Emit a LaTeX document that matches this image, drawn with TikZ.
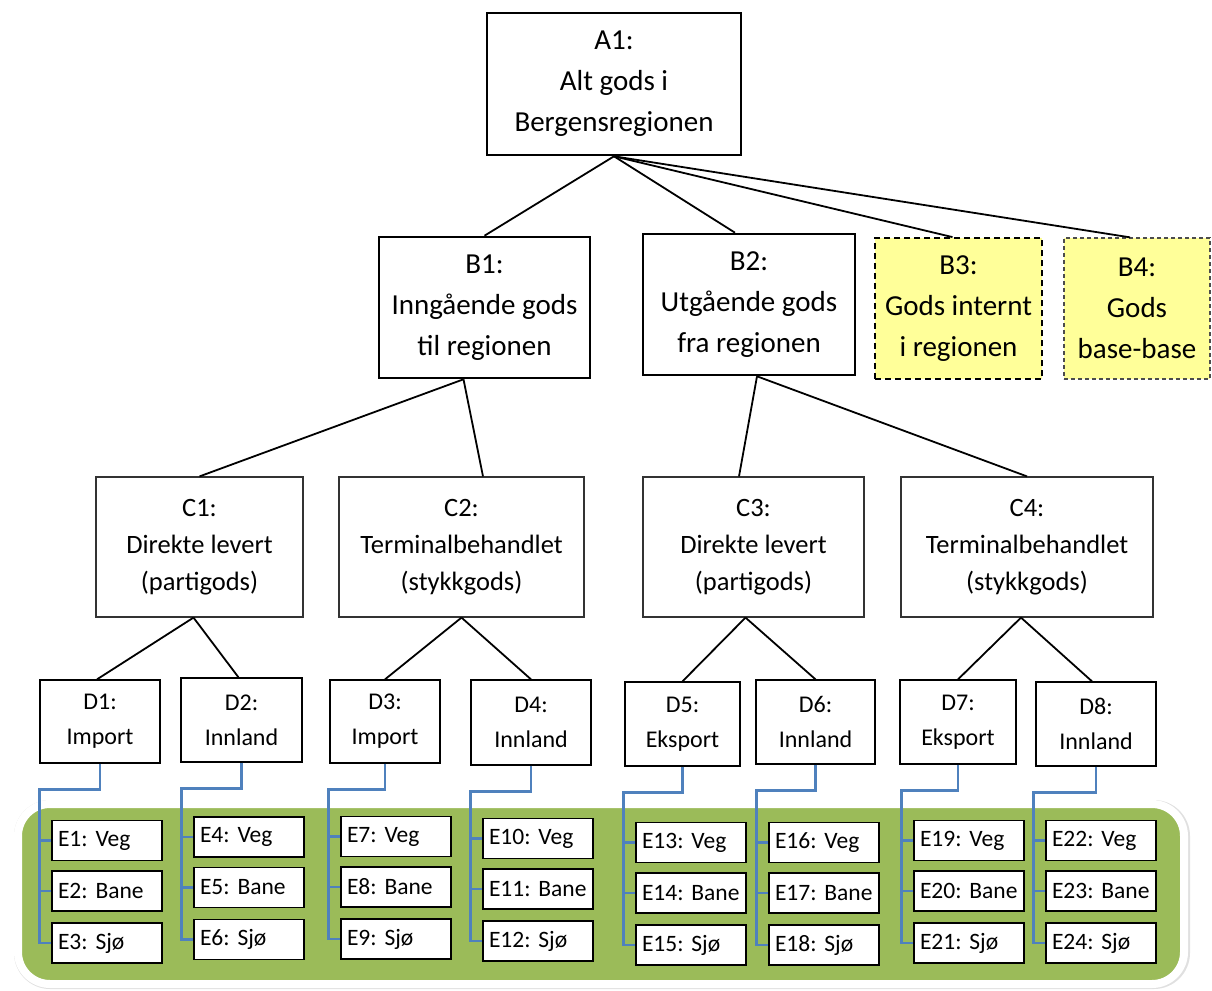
\documentclass[tikz,border=0pt]{standalone}
\usepackage{fontspec}
\setmainfont{Carlito}
\definecolor{panelgreen}{HTML}{9BBB59}
\definecolor{noteyellow}{HTML}{FFFF99}
\definecolor{feedblue}{HTML}{4F81BD}

\begin{document}
\frenchspacing
\begin{tikzpicture}[x=1pt,y=-1pt,
    mainbox/.style={draw, line width=2.6pt, fill=white, align=center, inner sep=0pt,
        font=\fontsize{29}{41}\selectfont},
    notebox/.style={draw, dashed, fill=noteyellow, align=center, inner sep=0pt,
        font=\fontsize{29}{41}\selectfont},
    groupbox/.style={draw=black!80, line width=1.2pt, fill=white, align=center, inner sep=0pt,
        minimum height=140, font=\fontsize{26.5}{37}\selectfont},
    flowbox/.style={draw, line width=1.3pt, fill=white, align=center, inner sep=0pt,
        font=\fontsize{24}{35}\selectfont},
    leaf/.style={draw, line width=1.3pt, fill=white, text width=98, align=left,
        inner xsep=6, inner ysep=0pt, minimum height=40, font=\fontsize{23.5}{26}\selectfont},
    link/.style={line width=1.8pt},
    feed/.style={draw=feedblue, line width=2.4pt}]
    \useasboundingbox (0,0) rectangle (1212,990);

    % green panel behind the transport modes
    \fill[black!12, rounded corners=36] (14,800) rectangle (1190,989);
    \draw[white, line width=8pt, fill=panelgreen, rounded corners=32] (18,804) rectangle (1184,984);

    % top level
    \node[mainbox, minimum width=254, minimum height=142] (A1) at (614,84)
        {A1:\\Alt gods i\\Bergensregionen};

    % B level
    \node[mainbox, minimum width=211, minimum height=141] (B1) at (484.5,307.5)
        {B1:\\Inngående gods\\til regionen};
    \node[mainbox, minimum width=212, minimum height=141] (B2) at (749,304.5)
        {B2:\\Utgående gods\\fra regionen};
    \node[notebox, line width=1.8pt, dash pattern=on 6pt off 4pt,
        minimum width=167, minimum height=141] (B3) at (958.5,308.5)
        {B3:\\Gods internt\\i regionen};
    \node[notebox, draw=black!70, line width=1.3pt, dash pattern=on 4pt off 3pt,
        minimum width=146, minimum height=141] (B4) at (1137,308.5)
        {B4:\\Gods\\base-base};

    \draw[link] (A1.south) -- (B1.north);
    \draw[link] (A1.south) -- ([xshift=-14pt]B2.north);
    \draw[link] (A1.south) -- ([xshift=-6pt]B3.north);
    \draw[link] (A1.south) -- ([xshift=-7pt]B4.north);

    % C level
    \node[groupbox, minimum width=207] (C1) at (199.5,547) {C1:\\Direkte levert\\(partigods)};
    \node[groupbox, minimum width=245] (C2) at (461.5,547) {C2:\\Terminalbehandlet\\(stykkgods)};
    \node[groupbox, minimum width=221] (C3) at (753.5,547) {C3:\\Direkte levert\\(partigods)};
    \node[groupbox, minimum width=252] (C4) at (1027,547) {C4:\\Terminalbehandlet\\(stykkgods)};

    \draw[link] ([xshift=-21pt]B1.south) -- (C1.north);
    \draw[link] ([xshift=-21pt]B1.south) -- ([xshift=21.5pt]C2.north);
    \draw[link] ([xshift=8pt]B2.south) -- ([xshift=-14.5pt]C3.north);
    \draw[link] ([xshift=8pt]B2.south) -- (C4.north);

    % D level
    \foreach \n/\x/\y/\w/\h/\txt in {
        1/100/721.5/120/83/Import,
        2/241.5/720/121/84/Innland,
        3/385/721.5/110/83/Import,
        4/531/722.5/120/85/Innland,
        5/682.5/724/115/84/Eksport,
        6/815.5/722/119/84/Innland,
        7/958/722/116/84/Eksport,
        8/1096/724/120/84/Innland
    } {
        \node[flowbox, minimum width=\w, minimum height=\h] (D\n) at (\x,\y) {D\n:\\\txt};
    }

    \draw[link] ([xshift=-6pt]C1.south) -- ([xshift=-3pt]D1.north);
    \draw[link] ([xshift=-6pt]C1.south) -- ([xshift=-3pt]D2.north);
    \draw[link] (C2.south) -- (D3.north);
    \draw[link] (C2.south) -- (D4.north);
    \draw[link] ([xshift=-8pt]C3.south) -- (D5.north);
    \draw[link] ([xshift=-8pt]C3.south) -- (D6.north);
    \draw[link] ([xshift=-6pt]C4.south) -- (D7.north);
    \draw[link] ([xshift=-6pt]C4.south) -- ([xshift=-4pt]D8.north);

    % E level: one column of transport modes under each D box
    \foreach \x/\y [count=\c] in {52/840.5, 194/837, 341/836.5, 483/838.5,
                                  636/842.5, 769/842.5, 914/840.5, 1046/840.5} {
        \foreach \r/\dy/\mode in {1/0/Veg, 2/50.5/Bane, 3/102.5/Sjø} {
            \pgfmathtruncatemacro{\k}{3*\c-3+\r}
            \node[leaf] (E\k) at (\x+55,\y+\dy) {E\k:~\mode};
        }
        \pgfmathtruncatemacro{\ea}{3*\c-2}
        \pgfmathtruncatemacro{\eb}{3*\c-1}
        \pgfmathtruncatemacro{\ez}{3*\c}
        \draw[feed] (D\c.south) -- ++(0,26) -| ([xshift=-12pt]E\ez.west) -- (E\ez.west);
        \draw[feed] ([xshift=-12pt]E\ea.west) -- (E\ea.west);
        \draw[feed] ([xshift=-12pt]E\eb.west) -- (E\eb.west);
    }
\end{tikzpicture}
\end{document}
